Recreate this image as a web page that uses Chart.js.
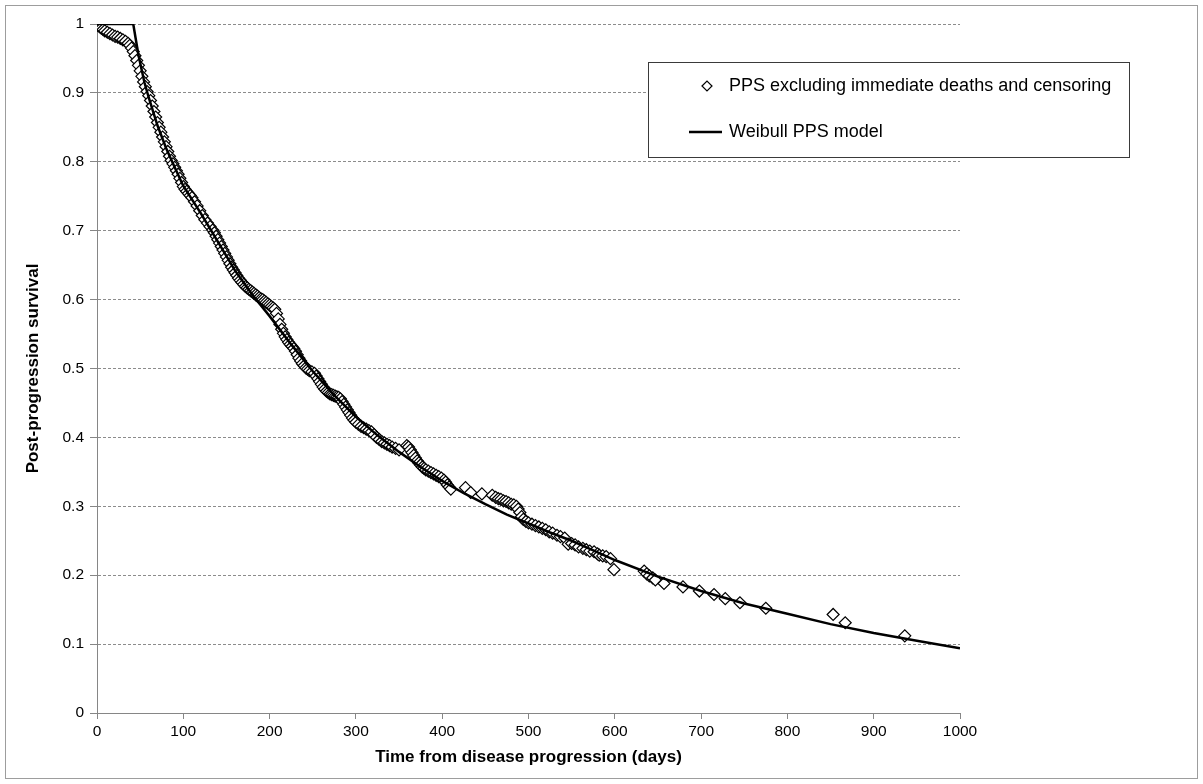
<!DOCTYPE html>
<html>
<head>
<meta charset="utf-8">
<title>Post-progression survival</title>
<script src="https://cdn.jsdelivr.net/npm/chart.js@4.4.1/dist/chart.umd.min.js"></script>
<style>
  html, body { margin: 0; padding: 0; background: #fff; }
  #wrap { position: relative; width: 1203px; height: 784px; }
</style>
</head>
<body>
<div id="wrap"><canvas id="ppsChart"></canvas></div>
<script>
// Kaplan-Meier PPS points (days, survival)
const kmDays = [0, 1, 3, 5, 7, 9, 12, 15, 18, 21, 24, 27, 30, 33, 36, 38, 40, 42, 44, 46, 48, 50, 52, 54, 56, 58,
  60, 62, 64, 66, 68, 70, 72, 74, 76, 78, 80, 82, 84, 86, 88, 90, 92, 94, 96, 98, 100, 102, 104, 106, 108,
  110, 113, 116, 119, 122, 125, 128, 131, 134, 136, 138, 140, 142, 144, 146, 148, 150, 152, 154,
  156, 158, 160, 162, 164, 166, 168, 170, 172, 174, 176, 178, 180, 182, 184, 186, 188, 190, 192, 194, 196, 198,
  200, 202, 204, 206, 208, 210, 212, 214, 216, 218, 220, 222, 224, 226, 228, 230, 232, 234, 236, 238, 240, 242,
  244, 246, 249, 252, 254, 256, 258, 260, 262, 264, 266, 268, 270, 272, 274, 276, 278, 280, 282, 284, 286, 288,
  290, 292, 294, 296, 298, 300, 303, 306, 309, 312, 315, 318, 321, 324, 327, 330, 333, 336, 339, 342, 346, 350,
  359, 361, 363, 365, 367, 369, 371, 373, 375, 377, 379, 381, 384, 387, 390, 393, 396, 399, 402, 404, 406, 408,
  410, 427, 433, 446, 458, 462, 465, 468, 471, 474, 477, 480, 483, 486, 488, 490, 492, 494, 497, 500, 504, 508,
  512, 516, 520, 524, 528, 533, 537, 542, 546, 550, 554, 558, 563, 567, 571, 576, 580, 582, 586, 590, 595, 599,
  634, 637, 640, 644, 647, 657, 679, 698, 715, 728, 745, 775, 853, 867, 936];
const kmSurv = [1.000, 0.998, 0.996, 0.994, 0.992, 0.990, 0.988, 0.986, 0.984, 0.982, 0.981, 0.979, 0.977, 0.975,
  0.972, 0.969, 0.965, 0.960, 0.954, 0.947, 0.940, 0.932, 0.924, 0.916, 0.909, 0.902,
  0.896, 0.889, 0.881, 0.873, 0.865, 0.857, 0.850, 0.843, 0.836, 0.829, 0.822, 0.815, 0.808, 0.802, 0.797, 0.792,
  0.787, 0.782, 0.776, 0.770, 0.764, 0.760, 0.757, 0.754, 0.751,
  0.748, 0.742, 0.736, 0.729, 0.722, 0.716, 0.711, 0.706, 0.701, 0.697, 0.692, 0.687, 0.682, 0.677, 0.672, 0.667,
  0.662, 0.657, 0.652,
  0.647, 0.643, 0.639, 0.635, 0.631, 0.628, 0.625, 0.622, 0.619, 0.617, 0.615, 0.613, 0.611, 0.609, 0.607, 0.605,
  0.603, 0.601, 0.600, 0.598, 0.596, 0.594,
  0.592, 0.590, 0.588, 0.586, 0.580, 0.572, 0.564, 0.557, 0.551, 0.546, 0.542, 0.538, 0.535, 0.532, 0.529, 0.525,
  0.520, 0.515, 0.511, 0.507, 0.504, 0.501,
  0.499, 0.497, 0.495, 0.493, 0.489, 0.485, 0.481, 0.477, 0.473, 0.470, 0.467, 0.465, 0.463, 0.462, 0.461, 0.460,
  0.459, 0.458, 0.456, 0.452, 0.448, 0.444,
  0.440, 0.436, 0.432, 0.428, 0.425, 0.422, 0.419, 0.416, 0.414, 0.412, 0.410, 0.408, 0.404, 0.400, 0.397, 0.394,
  0.392, 0.390, 0.388, 0.386, 0.384, 0.382,
  0.388, 0.386, 0.382, 0.378, 0.374, 0.370, 0.366, 0.363, 0.360, 0.357, 0.355, 0.353, 0.351, 0.349, 0.347, 0.345,
  0.343, 0.341, 0.338, 0.335, 0.331, 0.328,
  0.325, 0.327, 0.320, 0.318, 0.316, 0.313, 0.311, 0.310, 0.308, 0.307, 0.305, 0.303, 0.302, 0.300, 0.296, 0.291,
  0.285, 0.281, 0.278, 0.276, 0.274, 0.272,
  0.270, 0.268, 0.266, 0.263, 0.261, 0.258, 0.256, 0.254, 0.245, 0.246, 0.244, 0.241, 0.239, 0.237, 0.235, 0.234,
  0.231, 0.229, 0.228, 0.227, 0.224, 0.208,
  0.206, 0.202, 0.199, 0.196, 0.193, 0.188, 0.183, 0.177, 0.172, 0.166, 0.160, 0.152, 0.143, 0.131, 0.112];

// Weibull model curve (days, survival)
const modelDays = [0, 42, 48, 55, 60, 70, 80, 90, 100, 120, 140, 160, 180, 200, 225, 250, 275, 300, 325, 350, 375,
  400, 425, 450, 475, 500, 525, 550, 575, 600, 650, 700, 750, 800, 850, 900, 950, 1000];
const modelSurv = [1, 1, 0.955, 0.915, 0.893, 0.853, 0.820, 0.792, 0.765, 0.726, 0.684, 0.642, 0.607, 0.576, 0.535,
  0.496, 0.461, 0.430, 0.403, 0.379, 0.357, 0.337, 0.319, 0.303, 0.288, 0.275, 0.262, 0.250, 0.236, 0.222, 0.198,
  0.177, 0.159, 0.144, 0.129, 0.116, 0.105, 0.094];

const seriesNames = ['PPS excluding immediate deaths and censoring', 'Weibull PPS model'];
const xTitle = 'Time from disease progression (days)';
const yTitle = 'Post-progression survival';

Chart.defaults.font.family = "'Liberation Sans', Arial, sans-serif";
Chart.defaults.color = '#000';

// cornice esterna del grafico
const framePlugin = {
  id: 'frame',
  beforeDraw(chart) {
    const c = chart.ctx;
    c.save();
    c.fillStyle = '#fff';
    c.fillRect(0, 0, chart.width, chart.height);
    c.strokeStyle = '#9d9d9d';
    c.lineWidth = 1;
    c.strokeRect(5.5, 5.5, 1192, 773);
    c.restore();
  }
};

// legenda disegnata sopra il grafico, a destra
const boxLegend = {
  id: 'boxLegend',
  afterDraw(chart) {
    const c = chart.ctx;
    const kmSet = chart.data.datasets[1];
    const lineSet = chart.data.datasets[0];
    c.save();
    c.fillStyle = '#fff';
    c.fillRect(648, 62, 481, 95);
    c.strokeStyle = '#3a3a3a';
    c.lineWidth = 1;
    c.strokeRect(648.5, 62.5, 481, 95);

    // marker a rombo
    c.beginPath();
    c.moveTo(702, 86);
    c.lineTo(707, 81);
    c.lineTo(712, 86);
    c.lineTo(707, 91);
    c.closePath();
    c.fillStyle = '#fff';
    c.fill();
    c.strokeStyle = '#000';
    c.lineWidth = 1.2;
    c.stroke();

    // linea del modello
    c.beginPath();
    c.moveTo(689, 132);
    c.lineTo(722, 132);
    c.lineWidth = 2.5;
    c.stroke();

    c.fillStyle = '#000';
    c.font = "18px 'Liberation Sans', Arial, sans-serif";
    c.textBaseline = 'middle';
    c.textAlign = 'left';
    c.fillText(kmSet.label, 729, 86);
    c.fillText(lineSet.label, 729, 132);
    c.restore();
  }
};

const ctx = document.getElementById('ppsChart').getContext('2d');

const ppsChart = new Chart(ctx, {
  type: 'scatter',
  data: {
    datasets: [{
      label: seriesNames[1],
      data: modelDays.map((d, i) => ({ x: d, y: modelSurv[i] })),
      showLine: true,
      borderColor: '#000',
      borderWidth: 2.5,
      pointRadius: 0,
      tension: 0,
      fill: false,
    }, {
      label: seriesNames[0],
      data: kmDays.map((d, i) => ({ x: d, y: kmSurv[i] })),
      pointStyle: 'rectRot',
      pointRadius: 6,
      borderColor: '#000',
      backgroundColor: '#fff',
      borderWidth: 1.2,
    }],
  },
  options: {
    responsive: true,
    maintainAspectRatio: false,
    animation: false,
    devicePixelRatio: 1,
    layout: { padding: { left: 0, top: 24, right: 243, bottom: 0 } },
    plugins: {
      legend: { display: false },
      tooltip: { enabled: false },
    },
    scales: {
      x: {
        type: 'linear',
        min: 0,
        max: 1000,
        ticks: {
          stepSize: 100, font: { size: 15.5 }, padding: 3, maxRotation: 0, autoSkip: false,
          callback: v => String(v),
        },
        grid: { drawOnChartArea: false, tickLength: 6, tickColor: '#868686' },
        border: { color: '#868686', width: 1 },
        title: { display: true, text: xTitle, font: { size: 17, weight: 'bold' }, padding: { top: 0, bottom: 16 } },
        afterFit: scale => { scale.height = 71; },
      },
      y: {
        min: 0,
        max: 1,
        ticks: {
          stepSize: 0.1, font: { size: 15.5 }, padding: 6,
          callback: v => String(Math.round(v * 10) / 10),
        },
        grid: { color: '#8c8c8c', tickLength: 7, tickColor: '#868686', tickBorderDash: [] },
        border: { color: '#868686', width: 1, dash: [3, 2] },
        title: { display: true, text: yTitle, font: { size: 17, weight: 'bold' }, padding: { top: 23, bottom: 0 } },
        afterFit: scale => { scale.width = 97; },
      },
    },
  },
  plugins: [framePlugin, boxLegend],
});
</script>
</body>
</html>
